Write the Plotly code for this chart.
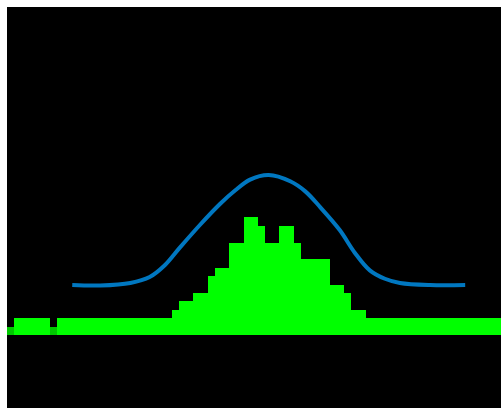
import plotly.graph_objects as go

# histogram counts per bin (bin index i spans [i, i+1])
counts = [1, 2, 2, 2, 2, 2, 1, 2, 2, 2, 2, 2, 2, 2, 2, 2, 2, 2, 2, 2, 2, 2, 2,
          3, 4, 4, 5, 5, 7, 8, 8, 11, 11, 14, 14, 13, 11, 11, 13, 13, 11,
          9, 9, 9, 9, 6, 6, 5, 3, 3,
          2, 2, 2, 2, 2, 2, 2, 2, 2, 2, 2, 2, 2, 2, 2, 2, 2, 2, 2, 2,
          2, 2, 2, 2]
bins = [i + 0.5 for i in range(len(counts))]

# smooth density curve
curve_x = [9.1, 13.0, 17.2, 19.9, 22.0, 24.1, 26.9, 29.7, 31.8, 33.9, 36.5,
           39.5, 41.6, 43.7, 46.4, 48.5, 50.6, 52.7, 54.8, 59.0, 63.9]
curve_y = [5.95, 5.9, 6.2, 6.9, 8.3, 10.4, 13.1, 15.6, 17.2, 18.5, 19.05,
           18.3, 17.1, 15.2, 12.5, 9.8, 7.7, 6.7, 6.2, 5.95, 5.95]

bar_colors = ["#00c800" if c == 1 else "#00ff00" for c in counts]

fig = go.Figure()
fig.add_trace(go.Bar(x=bins, y=counts, width=1, marker=dict(color=bar_colors, line=dict(width=0)),
                     showlegend=False))
fig.add_trace(go.Scatter(x=curve_x, y=curve_y, mode="lines", line=dict(color="#0077c0", width=4, shape="spline"),
                         showlegend=False))
fig.update_layout(
    width=520, height=430,
    margin=dict(l=0, r=0, t=0, b=0),
    paper_bgcolor="black", plot_bgcolor="black",
    bargap=0,
    xaxis=dict(range=[0, 72.52], visible=False),
    yaxis=dict(range=[-12.14, 39.05], visible=False),
)
fig.write_html("out.html",
               post_script="document.body.style.margin='7px 0 0 7px';document.body.style.overflow='hidden';")
